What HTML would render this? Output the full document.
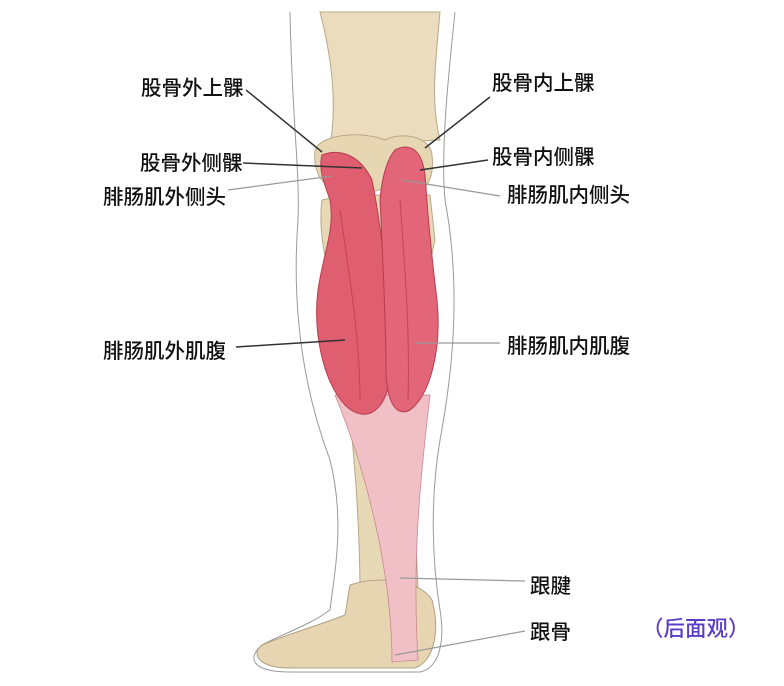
<!DOCTYPE html>
<html><head><meta charset="utf-8"><style>
html,body{margin:0;padding:0;background:#fff;width:784px;height:686px;overflow:hidden}
svg{display:block}
text{font-family:"Liberation Sans","Noto Sans CJK SC",sans-serif;font-size:20.5px;fill:#111;font-weight:500}
</style></head><body>
<svg width="784" height="686" viewBox="0 0 784 686">
<path d="M290 12 C292 120 300 170 298 220 C292 300 300 380 330 460 C345 520 335 570 330 610 C310 625 280 635 262 645 C245 660 255 672 290 672 L420 672 C440 668 445 640 440 610 C432 560 430 500 440 440 C455 360 460 280 445 200 C440 150 450 60 455 12" fill="none" stroke="#999" stroke-width="1"/>
<path d="M320 12 L440 12 C436 60 430 100 440 140 L330 145 C338 100 330 50 320 12Z" fill="#eadcbc" stroke="#b9a888" stroke-width="1"/>
<path d="M315 150 C320 135 360 130 385 140 C400 132 430 135 432 155 C435 180 425 195 405 195 L385 188 L362 195 C330 195 312 180 315 150Z" fill="#e6d6b2" stroke="#b9a888"/>
<path d="M322 200 L345 195 L430 195 L435 240 C420 300 425 420 415 520 L418 590 L360 595 C360 500 350 400 335 300 C325 260 318 230 322 200Z" fill="#e8d9b6" stroke="#b9a888"/>
<path d="M350 585 C380 575 420 580 432 600 C440 630 435 660 415 668 L290 668 C260 668 250 655 262 645 C285 635 320 625 345 615Z" fill="#e6d5b0" stroke="#b0a080"/>
<path d="M335 395 L430 395 C420 480 412 560 418 660 L392 662 C392 580 370 480 335 395Z" fill="#f0c0c6" stroke="#c98890" stroke-width="0.8"/>
<path d="M322 155 C340 148 360 155 372 180 C382 230 390 300 390 380 C382 420 360 420 345 405 C322 380 313 330 318 290 C324 250 335 230 330 200 C325 185 318 170 322 155Z" fill="#df5f70" stroke="#b83c50"/>
<path d="M395 150 C410 142 422 150 425 175 C428 220 432 260 437 300 C442 350 430 395 410 410 C395 418 385 400 386 360 C385 300 382 240 380 200 C382 175 388 158 395 150Z" fill="#e26677" stroke="#b83c50"/>
<path d="M340 210 C350 280 360 340 360 400 M400 200 C405 270 410 330 408 400" stroke="#c04458" fill="none" stroke-width="1"/>
<g stroke="#333" stroke-width="1.5">
<line x1="246" y1="90" x2="322" y2="152"/>
<line x1="243" y1="163" x2="362" y2="168"/>
<line x1="236" y1="347" x2="345" y2="340"/>
<line x1="490" y1="97" x2="425" y2="148"/>
<line x1="488" y1="160" x2="420" y2="170"/>
</g>
<g stroke="#999" stroke-width="1.2">
<line x1="228" y1="190" x2="332" y2="176"/>
<line x1="500" y1="196" x2="402" y2="180"/>
<line x1="500" y1="343" x2="415" y2="343"/>
<line x1="525" y1="581" x2="400" y2="578"/>
<line x1="525" y1="631" x2="395" y2="655"/>
</g>
<text x="141" y="95">股骨外上髁</text>
<text x="140" y="170">股骨外侧髁</text>
<text x="103" y="204">腓肠肌外侧头</text>
<text x="103" y="358">腓肠肌外肌腹</text>
<text x="492" y="90">股骨内上髁</text>
<text x="492" y="164">股骨内侧髁</text>
<text x="507" y="202">腓肠肌内侧头</text>
<text x="507" y="353">腓肠肌内肌腹</text>
<text x="530" y="593">跟腱</text>
<text x="530" y="639">跟骨</text>
<text x="642" y="636" style="fill:#5a3cc8;font-size:21.5px">（后面观）</text>
</svg>
</body></html>
